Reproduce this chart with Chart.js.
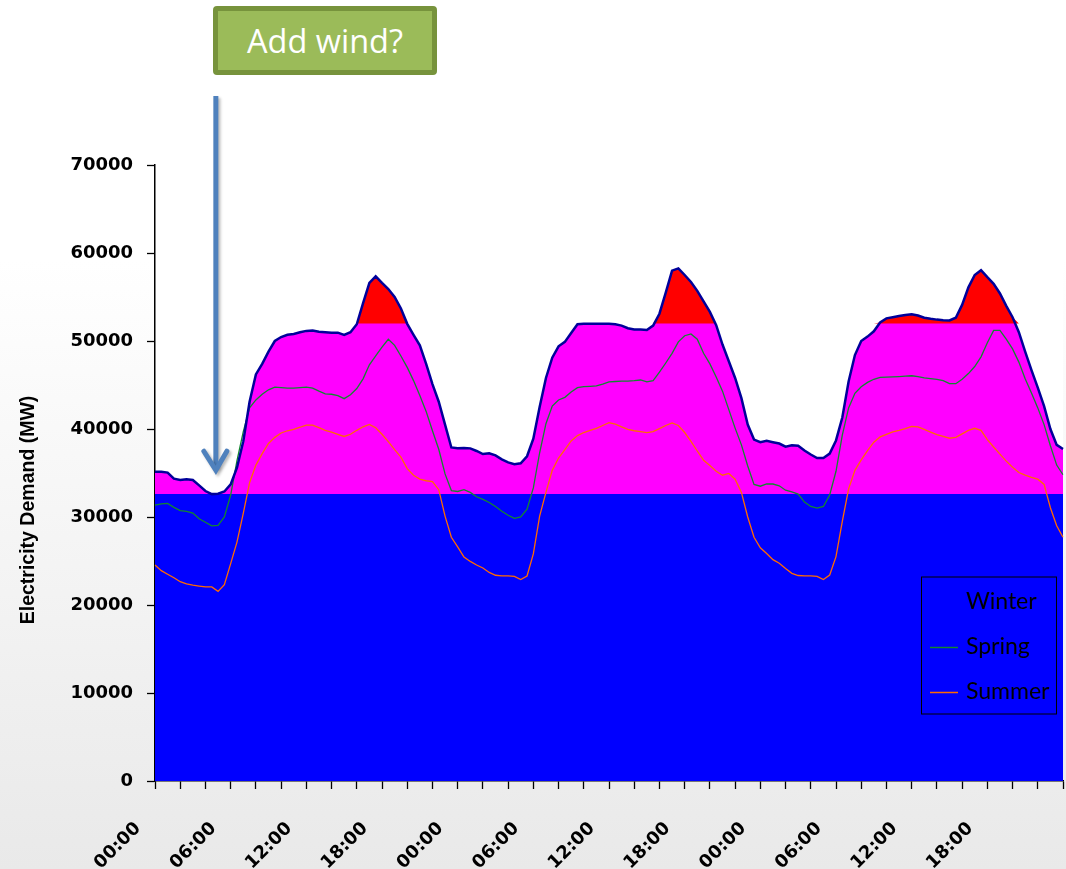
<!DOCTYPE html>
<html>
<head>
<meta charset="utf-8">
<title>Electricity Demand</title>
<script src="https://cdn.jsdelivr.net/npm/chart.js@4.4.1/dist/chart.umd.min.js"></script>
<style>
  html, body { margin: 0; padding: 0; }
  body {
    width: 1066px; height: 869px; overflow: hidden; position: relative;
    background: linear-gradient(to bottom, #ffffff 0%, #ffffff 30%, #e9e9e9 100%);
  }
  #chart { position: absolute; left: 0; top: 0; }
  .callout {
    position: absolute; left: 213px; top: 6px; width: 224px; height: 69px;
    box-sizing: border-box; background: #9bbb59; border: 5px solid #77933c; border-radius: 4px;
    color: #ffffff; font: 32.5px "Open Sans", sans-serif; text-align: center; line-height: 59px;
  }
</style>
</head>
<body>
<canvas id="chart" width="1066" height="869"></canvas>
<div class="callout">Add wind?</div>
<script>
// Half-hourly time stamps over three days
const times = [];
for (let d = 0; d < 3; d++) {
  for (let h = 0; h < 24; h++) {
    for (const m of ['00', '30']) times.push(String(h).padStart(2, '0') + ':' + m);
  }
}
times.push('00:00');

// Demand in MW, one value per half hour
const winter = [
  35150, 35150, 35050, 34350, 34200, 34300, 34200, 33600, 32950, 32600, 32650, 32900,
  33700, 35600, 38600, 43100, 46200, 47400, 48800, 50000, 50450, 50700, 50800, 51000,
  51150, 51200, 51050, 51000, 50950, 50950, 50700, 51000, 51900, 54300, 56600, 57350,
  56600, 55900, 55000, 53700, 51950, 50700, 49500, 47400, 45100, 43100, 40500, 37900,
  37800, 37850, 37800, 37500, 37150, 37250, 37000, 36550, 36200, 36000, 36100, 36900,
  38900, 42500, 45800, 48100, 49400, 49900, 50900, 51900, 51950, 51950, 51950, 51950,
  51950, 51900, 51750, 51450, 51300, 51300, 51250, 51750, 53100, 55500, 58000, 58250,
  57500, 56700, 55700, 54500, 53300, 51800, 49600, 47700, 45800, 43500, 40500, 38800,
  38500, 38650, 38500, 38350, 38000, 38150, 38100, 37550, 37100, 36700, 36700, 37200,
  38700, 41300, 45400, 48400, 50000, 50500, 51100, 52100, 52570, 52700, 52830, 52950,
  53050, 52900, 52650, 52520, 52430, 52370, 52330, 52650, 54100, 56100, 57500, 58050,
  57250, 56500, 55400, 54000, 52700, 51000, 48800, 46700, 44700, 42600, 40000, 38200,
  37730
];
const spring = [
  31350, 31500, 31550, 31100, 30720, 30650, 30450, 29800, 29400, 29000, 29050, 30000,
  32500, 36400, 39700, 42400, 43300, 43950, 44450, 44750, 44700, 44650, 44650, 44700,
  44750, 44650, 44300, 44000, 43950, 43800, 43450, 43900, 44600, 45700, 47300, 48300,
  49300, 50200, 49500, 48300, 47000, 45500, 43800, 42000, 39800, 37700, 34900, 33000,
  32900, 33100, 32800, 32300, 32000, 31650, 31200, 30650, 30200, 29850, 30000, 30900,
  33300, 37300, 40600, 42600, 43300, 43600, 44200, 44700, 44820, 44850, 44890, 45100,
  45350, 45400, 45430, 45450, 45500, 45570, 45350, 45500, 46450, 47500, 48600, 49900,
  50600, 50800, 50200, 48600, 47400, 45900, 44300, 42200, 40100, 38200, 35800, 33700,
  33500, 33750, 33750, 33550, 33050, 32850, 32600, 31700, 31200, 31000, 31200, 32500,
  35200, 39300, 42400, 44050, 44800, 45300, 45650, 45870, 45900, 45930, 45960, 46000,
  46050, 45950, 45800, 45720, 45650, 45500, 45150, 45150, 45650, 46300, 47100, 48200,
  49800, 51200, 51200, 50200, 49100, 47600, 45700, 44100, 42400, 40500, 38100, 35900,
  34800
];
const summer = [
  24550, 23900, 23500, 23100, 22650, 22400, 22250, 22150, 22050, 22050, 21550, 22300,
  24700, 27150, 30400, 33900, 35900, 37200, 38350, 39050, 39550, 39800, 39970, 40200,
  40450, 40450, 40150, 39850, 39650, 39400, 39150, 39400, 39850, 40250, 40520, 40150,
  39400, 38560, 37650, 36800, 35500, 34750, 34300, 34120, 34030, 33100, 30100, 27700,
  26600, 25450, 24950, 24550, 24200, 23700, 23380, 23300, 23300, 23250, 22900, 23300,
  25800, 30100, 32800, 35300, 36700, 37650, 38650, 39250, 39600, 39850, 40070, 40400,
  40720, 40550, 40250, 39950, 39800, 39700, 39600, 39700, 40050, 40400, 40700, 40400,
  39600, 38600, 37500, 36450, 35850, 35200, 34750, 34950, 34300, 32800, 30000, 27700,
  26500, 25850, 25150, 24750, 24150, 23600, 23350, 23300, 23300, 23250, 22900, 23400,
  25500, 29500, 33200, 35300, 36500, 37550, 38500, 39100, 39400, 39680, 39850, 40050,
  40300, 40250, 39950, 39650, 39350, 39150, 38950, 39050, 39450, 39850, 40080, 39850,
  38800, 37950, 37150, 36350, 35650, 35050, 34750, 34500, 34300, 33700, 31050, 29000,
  27700
];

// Generation bands (MW)
const BASELOAD = 32600;
const PEAK_LINE = 52000;

const Y_MIN = 0, Y_MAX = 70000, Y_STEP = 10000;
const yTitle = 'Electricity Demand (MW)';

const COLORS = {
  base: '#0000ff', mid: '#ff00ff', peak: '#ff0000',
  winter: '#00009a', spring: '#13872f', summer: '#ff6a00'
};

// White plotting surface
const plotBackground = {
  id: 'plotBackground',
  beforeDraw(chart) {
    const { ctx, chartArea: a } = chart;
    ctx.save();
    ctx.fillStyle = '#ffffff';
    ctx.fillRect(a.left, a.top, a.right - a.left, a.bottom - a.top);
    ctx.restore();
  }
};

// Rotated y-axis title
const sideTitle = {
  id: 'sideTitle',
  afterDraw(chart) {
    const { ctx, chartArea: a } = chart;
    ctx.save();
    ctx.translate(29, a.top + (a.bottom - a.top) * 0.56);
    ctx.rotate(-Math.PI / 2);
    ctx.font = 'bold 19.5px "Liberation Sans", Arial, sans-serif';
    ctx.fillStyle = '#000000';
    ctx.textAlign = 'center';
    ctx.textBaseline = 'middle';
    ctx.fillText(yTitle, 0, 0);
    ctx.restore();
  }
};

// Boxed legend inside the plot, lower right
const insetLegend = {
  id: 'insetLegend',
  afterDatasetsDraw(chart) {
    const { ctx, chartArea: a } = chart;
    const bx = a.right - 141.5, by = a.bottom - 204, bw = 135, bh = 137;
    const items = chart.data.datasets.filter(d => d.inLegend);
    ctx.save();
    ctx.strokeStyle = '#000000';
    ctx.lineWidth = 1;
    ctx.strokeRect(bx, by, bw, bh);
    ctx.font = '23px Lato, sans-serif';
    ctx.textBaseline = 'middle';
    ctx.textAlign = 'left';
    items.forEach((d, i) => {
      const cy = by + 25 + i * 45;
      if (d.legendLine) {
        ctx.strokeStyle = d.borderColor;
        ctx.lineWidth = 1.5;
        ctx.beginPath();
        ctx.moveTo(bx + 8.5, cy + 0.5);
        ctx.lineTo(bx + 36.5, cy + 0.5);
        ctx.stroke();
      }
      ctx.fillStyle = '#000000';
      ctx.fillText(d.label, bx + 44.5, cy);
    });
    ctx.restore();
  }
};

// Arrow from the callout down to the overnight trough
const troughArrow = {
  id: 'troughArrow',
  afterDraw(chart) {
    const { ctx } = chart;
    const x = chart.scales.x.getPixelForValue(9.65);
    const tip = chart.scales.y.getPixelForValue(35200);
    ctx.save();
    ctx.strokeStyle = '#4f81bd';
    ctx.lineWidth = 5;
    ctx.shadowColor = 'rgba(0,0,0,0.28)';
    ctx.shadowBlur = 3;
    ctx.shadowOffsetX = 2;
    ctx.shadowOffsetY = 2;
    ctx.lineCap = 'butt';
    ctx.beginPath();
    ctx.moveTo(x, 96);
    ctx.lineTo(x, tip - 3);
    ctx.stroke();
    ctx.lineCap = 'round';
    ctx.lineJoin = 'miter';
    ctx.beginPath();
    ctx.moveTo(x - 12, tip - 20);
    ctx.lineTo(x, tip - 1);
    ctx.lineTo(x + 11, tip - 20);
    ctx.stroke();
    ctx.restore();
  }
};

const tickFont = { family: '"DejaVu Sans", sans-serif', weight: 'bold', size: 18 };

new Chart(document.getElementById('chart'), {
  type: 'line',
  data: {
    labels: times,
    datasets: [
      {
        label: 'Winter', data: winter, inLegend: true, legendLine: false,
        borderColor: COLORS.winter, borderWidth: 2.5, pointRadius: 0, tension: 0,
        fill: false, order: 0
      },
      {
        label: 'Spring', data: spring, inLegend: true, legendLine: true,
        borderColor: COLORS.spring, borderWidth: 1.3, pointRadius: 0, tension: 0,
        fill: false, order: 1
      },
      {
        label: 'Summer', data: summer, inLegend: true, legendLine: true,
        borderColor: COLORS.summer, borderWidth: 1.3, pointRadius: 0, tension: 0,
        fill: false, order: 2
      },
      {
        // winter demand above the peak line
        label: 'Peak', data: winter.map(v => Math.max(v, PEAK_LINE)),
        borderWidth: 0, borderColor: COLORS.peak, backgroundColor: COLORS.peak,
        pointRadius: 0, tension: 0, fill: { value: PEAK_LINE }, order: 3
      },
      {
        label: 'Baseload', data: times.map(() => BASELOAD),
        borderWidth: 0, borderColor: COLORS.base, backgroundColor: COLORS.base,
        pointRadius: 0, fill: 'origin', order: 4
      },
      {
        label: 'Mid-merit', data: winter,
        borderWidth: 0, borderColor: COLORS.mid, backgroundColor: COLORS.mid,
        pointRadius: 0, tension: 0, fill: 'origin', order: 5
      }
    ]
  },
  options: {
    responsive: false,
    animation: false,
    devicePixelRatio: 1,
    layout: { padding: { left: 0, top: 165, right: 3, bottom: 0 } },
    plugins: { legend: { display: false }, tooltip: { enabled: false } },
    scales: {
      x: {
        type: 'category',
        offset: false,
        border: { display: true, color: '#000000', width: 1.5 },
        grid: {
          display: true, drawOnChartArea: false, drawTicks: true, tickLength: 8,
          tickWidth: 1.3,
          tickColor: ctx => (ctx.index % 4 === 0 ? '#000000' : 'rgba(0,0,0,0)')
        },
        ticks: {
          autoSkip: false, minRotation: 45, maxRotation: 45,
          labelOffset: -17, padding: 29, color: '#000000',
          font: { family: '"DejaVu Sans", sans-serif', weight: 'bold', size: 18 },
          callback: (v, i) => (i % 12 === 0 && i < times.length - 1 ? times[i] : '')
        },
        afterFit(scale) {
          scale.height = 88;
          scale.paddingLeft = 0;
          scale.paddingRight = 0;
        }
      },
      y: {
        min: Y_MIN, max: Y_MAX,
        border: { display: true, color: '#000000', width: 1.5 },
        grid: { display: true, drawOnChartArea: false, drawTicks: true, tickLength: 8, tickColor: '#000000', tickWidth: 1.3 },
        ticks: { stepSize: Y_STEP, padding: 14, color: '#000000', font: tickFont, callback: v => String(v) },
        afterFit(scale) { scale.width = 155; }
      }
    }
  },
  plugins: [plotBackground, insetLegend, sideTitle, troughArrow]
});
</script>
</body>
</html>
